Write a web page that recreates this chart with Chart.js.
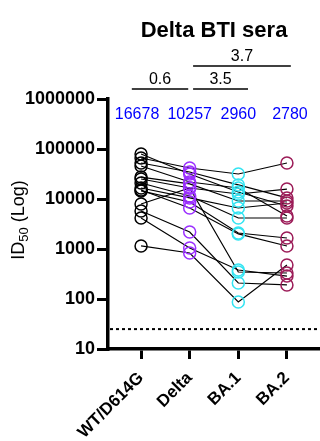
<!DOCTYPE html>
<html lang="en">
<head>
<meta charset="UTF-8">
<title>Delta BTI sera</title>
<script src="https://cdn.jsdelivr.net/npm/chart.js"></script>
<style>
    html, body { margin: 0; padding: 0; background: #fff; }
    .box { width: 320px; height: 441px; }
</style>
</head>
<body>
<div class="box"><canvas id="grafico"></canvas></div>
<script>
// categories and per-donor titres (one entry per donor, same order in each array)
const variants = ['WT/D614G', 'Delta', 'BA.1', 'BA.2'];
const wt    = [66100, 79400, 52500, 45700, 27500, 25100, 20900, 16600, 14500, 15100, 7940, 5750, 4170, 1150];
const delta = [41700, 31600, 34700, 21900, 20000, 16600, 11500, 10500, 8710, 6610, 16600, 2190, 1050, 832];
const ba1   = [31600, 13800, 19100, 16600, 9120, 12600, 4170, 6610, 2090, 2000, 347, 209, 380, 87];
const ba2   = [52500, 7240, 10500, 4570, 9120, 15800, 4170, 8320, 1660, 1150, 331, 191, 288, 479];
const gmt = ['16678', '10257', '2960', '2780'];
const yTicks = [10, 100, 1000, 10000, 100000, 1000000];
const lod = 25;
// fold changes: [from, to, label, row]
const folds = [[-0.19, 0.97, '0.6', 1], [1.07, 2.2, '3.5', 1], [1.07, 3.08, '3.7', 0]];

const cores = ['#000000', '#9b30ff', '#33e4f2', '#9c1c58'];
const fonte = "'Liberation Sans', Arial, sans-serif";

const donors = [wt, delta, ba1, ba2];
var datasets = [];

// hollow circles per variant, on top
for (var c = 0; c < variants.length; c++) {
    datasets.push({
        data: donors[c].map((v) => ({ x: c, y: v })),
        showLine: false,
        pointRadius: 6,
        pointBorderWidth: 1.5,
        pointBorderColor: cores[c],
        pointBackgroundColor: 'rgba(255,255,255,0)',
        order: 0
    });
}
// lines connecting each donor
for (var i = 0; i < wt.length; i++) {
    datasets.push({
        data: [{ x: 0, y: wt[i] }, { x: 1, y: delta[i] }, { x: 2, y: ba1[i] }, { x: 3, y: ba2[i] }],
        showLine: true,
        borderColor: '#000',
        borderWidth: 1.2,
        pointRadius: 0,
        order: 1
    });
}

const extras = {
    id: 'extras',
    beforeDatasetsDraw(chart) {
        const ctx = chart.ctx, a = chart.chartArea;
        const y = chart.scales.y.getPixelForValue(lod);
        ctx.save();
        ctx.strokeStyle = '#000';
        ctx.lineWidth = 2;
        ctx.setLineDash([3, 3]);
        ctx.beginPath();
        ctx.moveTo(a.left + 2, y);
        ctx.lineTo(a.right, y);
        ctx.stroke();
        ctx.restore();
    },
    afterDraw(chart) {
        const ctx = chart.ctx, xs = chart.scales.x;
        ctx.save();
        ctx.fillStyle = '#000';
        ctx.textAlign = 'center';
        ctx.textBaseline = 'middle';
        ctx.font = 'bold 22px ' + fonte;
        ctx.fillText('Delta BTI sera', 214, 31);

        ctx.font = '16px ' + fonte;
        ctx.lineWidth = 1.5;
        folds.forEach((f) => {
            const yl = f[3] == 0 ? 66 : 89;
            const x1 = xs.getPixelForValue(f[0]), x2 = xs.getPixelForValue(f[1]);
            ctx.beginPath();
            ctx.moveTo(x1, yl);
            ctx.lineTo(x2, yl);
            ctx.stroke();
            ctx.fillText(f[2], (x1 + x2) / 2, yl - 9);
        });

        ctx.fillStyle = '#0000ff';
        ctx.font = '16px ' + fonte;
        gmt.forEach((g, i) => {
            ctx.fillText(g, xs.getPixelForValue(i) + (i == 0 ? -4 : (i == 3 ? 3 : 0)), 115);
        });

        // y title with subscript
        ctx.fillStyle = '#000';
        ctx.translate(19, 220);
        ctx.rotate(-Math.PI / 2);
        ctx.textAlign = 'left';
        ctx.font = '18px ' + fonte;
        const w1 = ctx.measureText('ID').width;
        ctx.font = '13px ' + fonte;
        const w2 = ctx.measureText('50').width;
        ctx.font = '18px ' + fonte;
        const w3 = ctx.measureText(' (Log)').width;
        let x0 = -(w1 + w2 + w3) / 2;
        ctx.fillText('ID', x0, 0);
        ctx.font = '13px ' + fonte;
        ctx.fillText('50', x0 + w1, 5);
        ctx.font = '18px ' + fonte;
        ctx.fillText(' (Log)', x0 + w1 + w2, 0);
        ctx.restore();
    }
};

var grafico = document.getElementById('grafico');
new Chart(grafico, {
    type: 'scatter',
    data: { datasets: datasets },
    plugins: [extras],
    options: {
        responsive: true,
        maintainAspectRatio: false,
        animation: false,
        layout: { padding: { top: 99, right: 0, left: 0, bottom: 0 }, autoPadding: false },
        plugins: { legend: { display: false }, tooltip: { enabled: false } },
        scales: {
            x: {
                type: 'linear',
                min: -0.68,
                max: 3.68,
                afterBuildTicks: (s) => { s.ticks = variants.map((v, i) => ({ value: i })); },
                afterFit: (s) => { s.height = 92; },
                ticks: {
                    callback: (v) => variants[v],
                    autoSkip: false,
                    minRotation: 45,
                    maxRotation: 45,
                    padding: 9,
                    color: '#000',
                    font: { family: fonte, size: 17, weight: 'bold' }
                },
                grid: { drawOnChartArea: false, tickLength: 10, lineWidth: 3, color: '#000' },
                border: { width: 3.5, color: '#000' }
            },
            y: {
                type: 'logarithmic',
                min: 10,
                max: 1000000,
                afterBuildTicks: (s) => { s.ticks = yTicks.map((v) => ({ value: v })); },
                afterFit: (s) => { s.width = 108; },
                ticks: {
                    callback: (v) => String(v),
                    padding: 2,
                    color: '#000',
                    font: { family: fonte, size: 18, weight: 'bold' }
                },
                grid: { drawOnChartArea: false, tickLength: 11, lineWidth: 3, color: '#000' },
                border: { width: 3.5, color: '#000' }
            }
        }
    }
});
</script>
</body>
</html>
